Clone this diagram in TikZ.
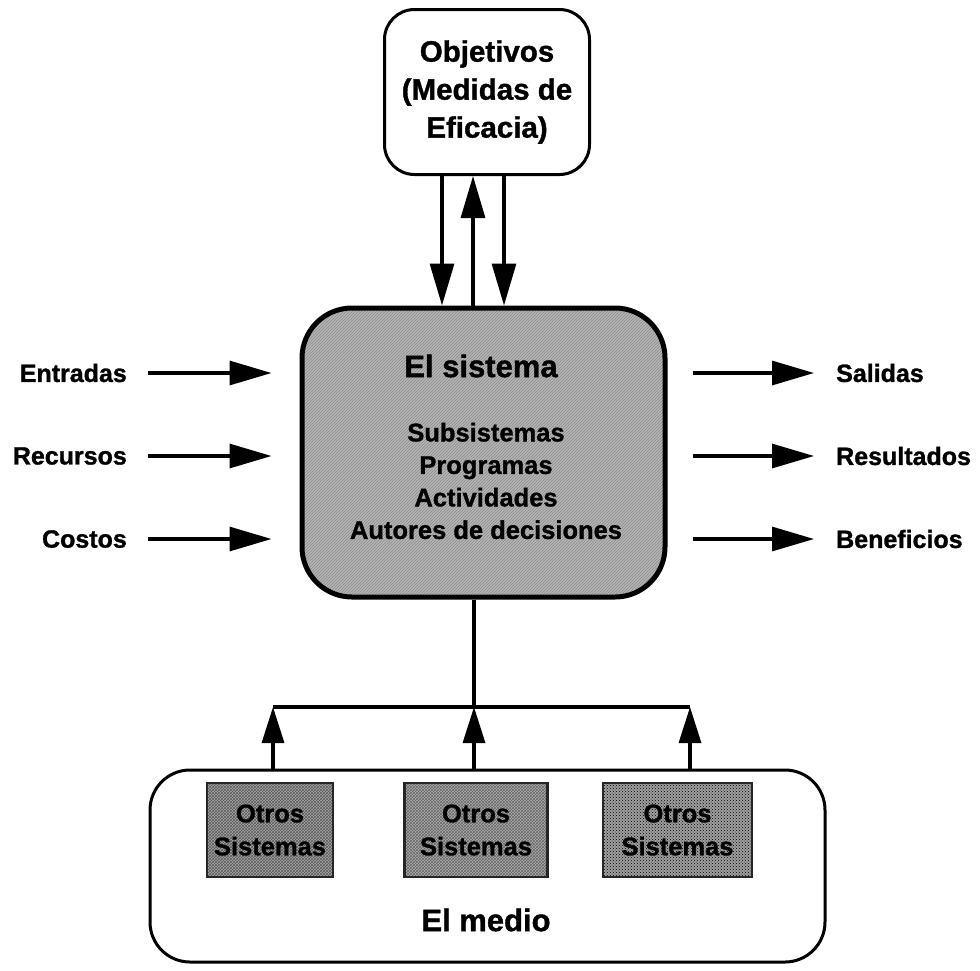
\documentclass[tikz,border=0pt]{standalone}
\usepackage{fontspec}
\setmainfont{Liberation Sans}[BoldFeatures={FakeBold=1.2}]
\usetikzlibrary{arrows.meta,patterns}

\begin{document}
\begin{tikzpicture}[x=1pt,y=-1pt,
  lbl/.style={inner sep=0pt, font=\bfseries\fontsize{25}{30}\selectfont},
  arr/.style={line width=3.2pt, -{Triangle[length=42pt,width=24pt]}},
  arrsm/.style={line width=3.2pt, -{Triangle[length=36pt,width=22pt]}},
  conn/.style={line width=3.2pt},
  roundbox/.style={draw, line width=3pt, fill=white},
  othersys/.style={draw=black!85, line width=2.4pt, align=center,
    font=\bfseries\fontsize{25.5}{33}\selectfont}
]
\useasboundingbox (0,0) rectangle (980,970);

% Objectives box
\node[roundbox, rounded corners=30pt, minimum width=205pt, minimum height=165pt,
      align=center, font=\bfseries\fontsize{29.5}{38}\selectfont]
      (obj) at (487,92) {Objetivos\\(Medidas de\\Eficacia)};

% The system
\node[draw, line width=5pt, rounded corners=50pt, minimum width=363pt, minimum height=289pt,
      preaction={fill=gray!58}, pattern=north east lines, pattern color=black!45]
      (sys) at (483.5,452.5) {};
\node[inner sep=0pt, font=\bfseries\fontsize{31}{36}\selectfont] (systitle) at (481,366) {El sistema};
\node[inner sep=0pt, align=center, font=\bfseries\fontsize{25.5}{32.5}\selectfont]
      (syslist) at (486,481) {Subsistemas\\Programas\\Actividades\\Autores de decisiones};

% Objectives <-> system
\coordinate (d1) at (442,0);
\coordinate (u1) at (473,0);
\coordinate (d2) at (504,0);
\draw[arr] (d1 |- obj.south) -- (d1 |- sys.north);
\draw[arr] (u1 |- sys.north) -- (u1 |- obj.south);
\draw[arr] (d2 |- obj.south) -- (d2 |- sys.north);

% Inputs
\node[lbl, anchor=east] (ent) at (127,373) {Entradas};
\node[lbl, anchor=east] (rec) at (127,456) {Recursos};
\node[lbl, anchor=east] (cos) at (127,539) {Costos};
\foreach \n in {ent,rec,cos}
  \draw[arr] ([xshift=21pt]\n.east) -- ([xshift=-28pt]sys.west |- \n.east);

% Outputs
\node[lbl, anchor=west] (sal) at (836,373) {Salidas};
\node[lbl, anchor=west] (res) at (836,456) {Resultados};
\node[lbl, anchor=west] (ben) at (836,539) {Beneficios};
\foreach \n in {sal,res,ben}
  \draw[arr] ([xshift=25pt]sys.east |- \n.west) -- ([xshift=-22pt]\n.west);

% The environment
\node[roundbox, rounded corners=40pt, minimum width=675pt, minimum height=192pt]
      (medio) at (487.5,866) {};
\node[inner sep=0pt, font=\bfseries\fontsize{31}{36}\selectfont] (mediolbl) at (486,920) {El medio};

\node[othersys, minimum width=126pt, minimum height=94pt,
      preaction={fill=gray!68}, pattern=crosshatch, pattern color=black!65]
      (o1) at (270,830) {Otros\\Sistemas};
\node[othersys, minimum width=143pt, minimum height=94pt,
      preaction={fill=gray!64}, pattern=crosshatch, pattern color=black!60]
      (o2) at (476,830) {Otros\\Sistemas};
\node[othersys, minimum width=149pt, minimum height=94pt,
      preaction={fill=gray!75}, pattern=crosshatch dots, pattern color=black]
      (o3) at (677.5,830) {Otros\\Sistemas};

% Environment -> system
\coordinate (hub) at (474,707);
\coordinate (bl) at (273,707);
\coordinate (br) at (690,707);
\draw[conn] (hub |- sys.south) -- (hub);
\draw[conn] (bl) -- (br);
\draw[arrsm] (bl |- medio.north) -- (bl);
\draw[arrsm] (hub |- medio.north) -- (hub);
\draw[arrsm] (br |- medio.north) -- (br);
\end{tikzpicture}
\end{document}
